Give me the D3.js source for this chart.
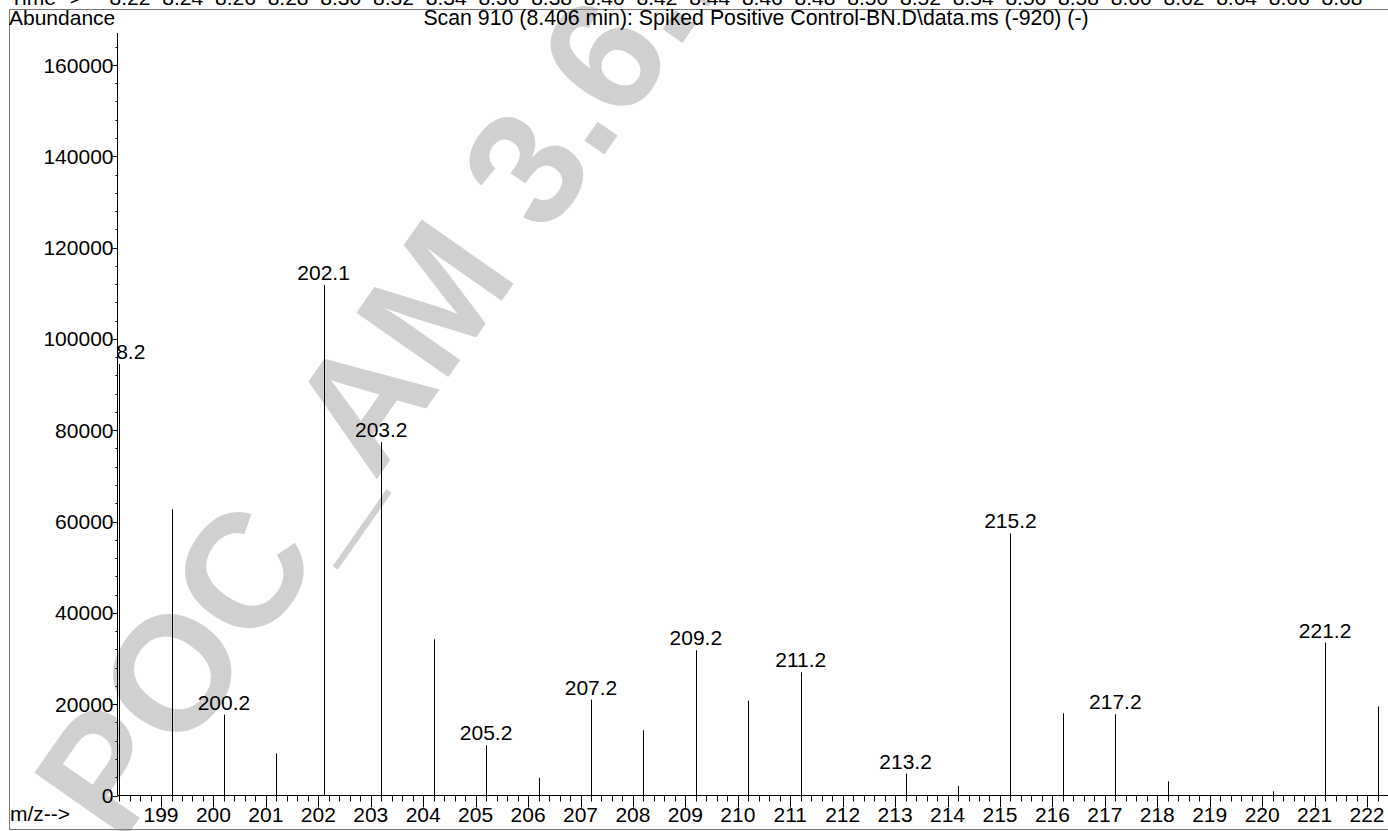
<!DOCTYPE html>
<html><head><meta charset="utf-8">
<script src="https://cdn.jsdelivr.net/npm/d3@7"></script>
<style>
body{margin:0;background:#fff;}
svg{display:block;}
text{font-family:"Liberation Sans",Arial,Helvetica,sans-serif;fill:#000;}
</style>
</head><body>
<svg id="chart" width="1388" height="831"></svg>
<script>
// ---- data ----
const mzValues = [198.2,199.2,200.2,201.2,202.1,203.2,204.2,205.2,206.2,207.2,208.2,209.2,210.2,211.2,213.2,214.2,215.2,216.2,217.2,218.2,220.2,221.2,222.2];
const abundanceValues = [94500,62700,17700,9200,111800,77400,34200,11000,3900,21000,14300,31800,20800,27000,4800,2100,57400,18000,17800,3100,900,33500,19500];
const labeledPeaks = [198.2,200.2,202.1,203.2,205.2,207.2,209.2,211.2,213.2,215.2,217.2,221.2];
const yTickValues = [0,20000,40000,60000,80000,100000,120000,140000,160000];
const xTickValues = [199,200,201,202,203,204,205,206,207,208,209,210,211,212,213,214,215,216,217,218,219,220,221,222];
const timeTickLabels = ["8.22","8.24","8.26","8.28","8.30","8.32","8.34","8.36","8.38","8.40","8.42","8.44","8.46","8.48","8.50","8.52","8.54","8.56","8.58","8.60","8.62","8.64","8.66","8.68"];
const titleText = "Scan 910 (8.406 min): Spiked Positive Control-BN.D\\data.ms (-920) (-)";
const watermarkText = "POC_AM 3.6.1";

(function(){
const peaks = mzValues.map((m,i)=>({mz:m, ab:abundanceValues[i], label:labeledPeaks.includes(m)}));

const svg = d3.select("#chart");
const W = 1388;
const FS = 21;
const pLeft = 117.5, pRight = 1388, pBottom = 795.5, pTop = 33;

const x = d3.scaleLinear().domain([198.17, 222.40]).range([pLeft, pRight]);
const y = d3.scaleLinear().domain([0, 167000]).range([pBottom, pTop]);
const tScale = d3.scaleLinear().domain([8.22, 8.68]).range([130, 1342]);

// watermark (under everything)
svg.append("text")
  .attr("transform", "translate(120,846) rotate(-55)")
  .attr("font-size", 163)
  .attr("font-weight", "bold")
  .style("fill", "#d0d0d0")
  .text(watermarkText);

// frame
svg.append("line").attr("x1",9.5).attr("x2",W).attr("y1",9.5).attr("y2",9.5).attr("stroke","#777");
svg.append("line").attr("x1",9.5).attr("x2",9.5).attr("y1",9.5).attr("y2",829.5).attr("stroke","#777");
svg.append("line").attr("x1",9.5).attr("x2",W).attr("y1",829.5).attr("y2",829.5).attr("stroke","#777");

// time row (cut off at top)
svg.append("text").attr("x",10).attr("y",5).attr("font-size",FS).text("Time-->");
svg.selectAll(".tl").data(timeTickLabels).enter().append("text")
  .attr("class","tl").attr("x",d=>tScale(+d)).attr("y",5)
  .attr("text-anchor","middle").attr("font-size",FS).text(d=>d);

// header texts
svg.append("text").attr("x",9).attr("y",25).attr("font-size",FS).text("Abundance");
svg.append("text").attr("x",756).attr("y",25).attr("font-size",21.3).attr("text-anchor","middle").text(titleText);

// y axis
const yAxisG = svg.append("g").attr("transform",`translate(${pLeft},0)`);
const yMinor = d3.range(0, 167001, 4000);
yAxisG.selectAll(".ym").data(yMinor).enter().append("line")
  .attr("x1",-2).attr("x2",0).attr("y1",d=>Math.round(y(d))+0.5).attr("y2",d=>Math.round(y(d))+0.5)
  .attr("stroke","#000");
yAxisG.selectAll(".yM").data(yTickValues).enter().append("line")
  .attr("x1",-5).attr("x2",0).attr("y1",d=>Math.round(y(d))+0.5).attr("y2",d=>Math.round(y(d))+0.5)
  .attr("stroke","#000");
yAxisG.selectAll(".yl").data(yTickValues).enter().append("text")
  .attr("x",-4).attr("y",d=>y(d)).attr("dy","0.36em").attr("text-anchor","end")
  .attr("font-size",FS).text(d=>d);
yAxisG.append("line").attr("x1",0).attr("x2",0).attr("y1",pTop).attr("y2",pBottom).attr("stroke","#000");

// x axis
const xAxisG = svg.append("g").attr("transform",`translate(0,${pBottom})`);
const xMinor = d3.range(1982, 2225, 2).map(v=>v/10);
xAxisG.selectAll(".xm").data(xMinor).enter().append("line")
  .attr("x1",d=>Math.round(x(d))+0.5).attr("x2",d=>Math.round(x(d))+0.5).attr("y1",0).attr("y2",6)
  .attr("stroke","#000");
xAxisG.selectAll(".xM").data(xTickValues).enter().append("line")
  .attr("x1",d=>Math.round(x(d))+0.5).attr("x2",d=>Math.round(x(d))+0.5).attr("y1",0).attr("y2",12)
  .attr("stroke","#000");
xAxisG.selectAll(".xl").data(xTickValues).enter().append("text")
  .attr("x",d=>x(d)).attr("y",26).attr("text-anchor","middle").attr("font-size",FS).text(d=>d);
xAxisG.append("line").attr("x1",pLeft).attr("x2",pRight).attr("y1",0).attr("y2",0).attr("stroke","#000");
svg.append("text").attr("x",10).attr("y",821).attr("font-size",FS).text("m/z-->");

// peaks, clipped to plot area
svg.append("clipPath").attr("id","plotclip").append("rect")
  .attr("x",pLeft+0.5).attr("y",0).attr("width",pRight-pLeft).attr("height",pBottom);
const pg = svg.append("g").attr("clip-path","url(#plotclip)");
pg.selectAll(".pk").data(peaks).enter().append("line")
  .attr("x1",d=>Math.round(x(d.mz))+0.5).attr("x2",d=>Math.round(x(d.mz))+0.5)
  .attr("y1",pBottom).attr("y2",d=>y(d.ab)).attr("stroke","#000");
pg.selectAll(".pl").data(peaks.filter(d=>d.label)).enter().append("text")
  .attr("x",d=>x(d.mz)).attr("y",d=>y(d.ab)-5).attr("text-anchor","middle")
  .attr("font-size",FS).text(d=>d.mz.toFixed(1));
})();
</script>
</body></html>
